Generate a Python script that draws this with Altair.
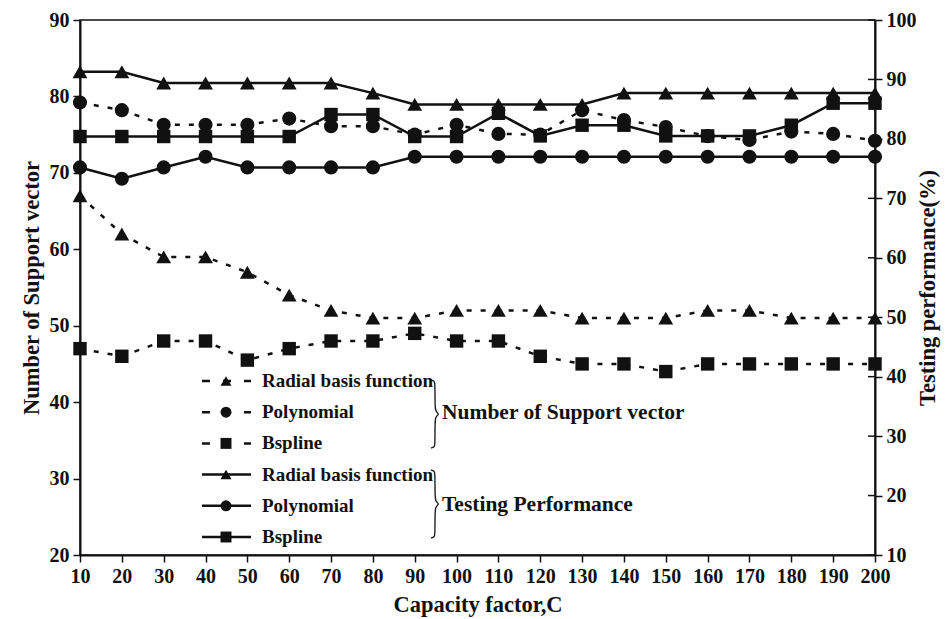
import altair as alt
import pandas as pd

# ---------------- data ----------------
C = [10, 20, 30, 40, 50, 60, 70, 80, 90, 100, 110, 120, 130, 140, 150, 160, 170, 180, 190, 200]
kernels = ["Radial basis function", "Polynomial", "Bspline"]

# Number of support vectors (left axis, dashed)
sv_rbf = [67, 62, 59, 59, 57, 54, 52, 51, 51, 52, 52, 52, 51, 51, 51, 52, 52, 51, 51, 51]
sv_poly = [79.2, 78.2, 76.3, 76.3, 76.3, 77.1, 76.1, 76.1, 75.0, 76.3, 75.1, 75.0, 78.2, 76.9, 76.0, 74.8, 74.3, 75.4, 75.1, 74.2]
sv_bsp = [47, 46, 48, 48, 45.5, 47, 48, 48, 49, 48, 48, 46, 45, 45, 44, 45, 45, 45, 45, 45]

# Testing performance % (right axis, solid)
tp_rbf = [91.3, 91.3, 89.4, 89.4, 89.4, 89.4, 89.4, 87.7, 85.8, 85.8, 85.8, 85.8, 85.8, 87.7, 87.7, 87.7, 87.7, 87.7, 87.7, 87.7]
tp_poly = [75.2, 73.3, 75.2, 77.0, 75.2, 75.2, 75.2, 75.2, 77.0, 77.0, 77.0, 77.0, 77.0, 77.0, 77.0, 77.0, 77.0, 77.0, 77.0, 77.0]
tp_bsp = [80.4, 80.4, 80.4, 80.4, 80.4, 80.4, 84.1, 84.1, 80.4, 80.4, 84.3, 80.5, 82.3, 82.3, 80.5, 80.5, 80.5, 82.3, 86.0, 86.0]

left_ticks = [20, 30, 40, 50, 60, 70, 80, 90]
right_ticks = [10, 20, 30, 40, 50, 60, 70, 80, 90, 100]

sv_df = pd.concat([
    pd.DataFrame({"C": C, "v": s, "kernel": k})
    for s, k in zip([sv_rbf, sv_poly, sv_bsp], kernels)
])
tp_df = pd.concat([
    pd.DataFrame({"C": C, "v": s, "kernel": k})
    for s, k in zip([tp_rbf, tp_poly, tp_bsp], kernels)
])
rt_df = pd.DataFrame({"v": right_ticks})

FONT = "Liberation Serif"
INK = "#111111"
W, H = 795, 535

shape_scale = alt.Scale(domain=kernels, range=["triangle-up", "circle", "square"])
size_scale = alt.Scale(domain=kernels, range=[220, 180, 180])
x_enc = alt.X("C:Q", scale=alt.Scale(domain=[10, 200], nice=False, zero=False),
              axis=alt.Axis(values=C, title="Capacity factor,C", grid=False, labelOverlap=False,
                            labelFlush=False, tickSize=7, labelPadding=4, titlePadding=7))

# ---------- number of support vectors (left) ----------
y_sv = alt.Y("v:Q", scale=alt.Scale(domain=[20, 90], nice=False, zero=False),
             axis=alt.Axis(orient="left", values=left_ticks, title="Number of Support vector",
                           grid=False, labelOverlap=False, labelFlush=False, tickSize=7,
                           labelPadding=4, titlePadding=6))
sv_line = alt.Chart(sv_df).mark_line(color=INK, strokeWidth=2.5, strokeDash=[5, 9]).encode(
    x=x_enc, y=y_sv, detail="kernel:N")
sv_pts = alt.Chart(sv_df).mark_point(filled=True, color=INK, opacity=1).encode(
    x=x_enc, y=y_sv,
    shape=alt.Shape("kernel:N", scale=shape_scale, legend=None),
    size=alt.Size("kernel:N", scale=size_scale, legend=None))
sv_layer = alt.layer(sv_line, sv_pts)

# ---------- testing performance (right) ----------
y_tp = alt.Y("v:Q", scale=alt.Scale(domain=[10, 100], nice=False, zero=False),
             axis=alt.Axis(orient="right", values=right_ticks, title="Testing performance(%)",
                           titleAngle=270, grid=False, labelOverlap=False, labelFlush=False,
                           tickSize=7, labelPadding=4, titlePadding=23))
tp_line = alt.Chart(tp_df).mark_line(color=INK, strokeWidth=2.5).encode(
    x=x_enc, y=y_tp, detail="kernel:N")
tp_pts = alt.Chart(tp_df).mark_point(filled=True, color=INK, opacity=1).encode(
    x=x_enc, y=y_tp,
    shape=alt.Shape("kernel:N", scale=shape_scale, legend=None),
    size=alt.Size("kernel:N", scale=size_scale, legend=None))
# inner half of the crossing ticks on the right axis
tp_inner = alt.Chart(rt_df).mark_rule(color=INK, strokeWidth=1.5).encode(
    y=y_tp, x=alt.value(W - 7), x2=alt.value(W))
tp_layer = alt.layer(tp_line, tp_pts, tp_inner)

# ---------- custom legend ----------
leg_y0, leg_dy = 361, 31.2
leg_df = pd.DataFrame({
    "label": kernels + kernels,
    "kernel": kernels + kernels,
    "group": ["sv"] * 3 + ["tp"] * 3,
    "ypx": [leg_y0 + i * leg_dy for i in range(6)],
})
ly = alt.Y("ypx:Q", scale=None, axis=None)
leg_dash = alt.Chart(leg_df).transform_filter(alt.datum.group == "sv").mark_rule(
    color=INK, strokeWidth=2.5, strokeDash=[8, 13]).encode(
    x=alt.value(122), x2=alt.value(171), y=ly)
leg_solid = alt.Chart(leg_df).transform_filter(alt.datum.group == "tp").mark_rule(
    color=INK, strokeWidth=2.5).encode(x=alt.value(122), x2=alt.value(171), y=ly)
leg_pts = alt.Chart(leg_df).mark_point(filled=True, color=INK, opacity=1, size=120).encode(
    x=alt.value(146), y=ly, shape=alt.Shape("kernel:N", scale=shape_scale, legend=None))
leg_txt = alt.Chart(leg_df).mark_text(
    align="left", baseline="middle", font=FONT, fontWeight="bold", fontSize=19, color=INK).encode(
    x=alt.value(182), y=ly, text="label:N")

grp_df = pd.DataFrame({
    "name": ["Number of Support vector", "Testing Performance"],
    "ypx": [leg_y0 + leg_dy + 1, leg_y0 + 4 * leg_dy - 1],
})
grp_txt = alt.Chart(grp_df).mark_text(
    align="left", baseline="middle", font=FONT, fontWeight="bold", fontSize=21.5, color=INK).encode(
    x=alt.value(362), y=ly, text="name:N")

# curly braces drawn as thin paths (decoration)
brace_dx = [-4, -2, -0.7, 0, 0, 0.6, 2, 4, 2, 0.6, 0, 0, -0.7, -2, -4]
brace_dy = [-34, -33.5, -32.5, -31, -7, -4, -1.5, 0, 1.5, 4, 7, 31, 32.5, 33.5, 34]
brace_rows = []
for gi, cy in enumerate([394, 484]):
    for i, (dx, dy) in enumerate(zip(brace_dx, brace_dy)):
        brace_rows.append({"g": gi, "i": i, "bx": 355 + dx, "by": cy + dy})
brace_df = pd.DataFrame(brace_rows)
brace = alt.Chart(brace_df).mark_line(color=INK, strokeWidth=1.3, interpolate="basis").encode(
    x=alt.X("bx:Q", scale=None, axis=None), y=alt.Y("by:Q", scale=None, axis=None),
    detail="g:N", order="i:Q")

chart = alt.layer(sv_layer, tp_layer, leg_dash, leg_solid, leg_pts, leg_txt, grp_txt, brace).resolve_scale(
    y="independent"
).properties(
    width=W, height=H,
    autosize=alt.AutoSizeParams(type="none"),
    padding={"left": 80, "top": 20, "right": 71, "bottom": 64},
    background="white",
).configure_view(
    stroke=INK, strokeWidth=1.5
).configure_axis(
    domainColor=INK, domainWidth=2, tickColor=INK, tickWidth=1.5,
    labelFont=FONT, labelFontSize=20, labelFontWeight="bold", labelColor=INK,
    titleFont=FONT, titleFontSize=22.5, titleFontWeight="bold", titleColor=INK,
)

chart.save("out.html", embed_options={"renderer": "svg", "actions": False})
